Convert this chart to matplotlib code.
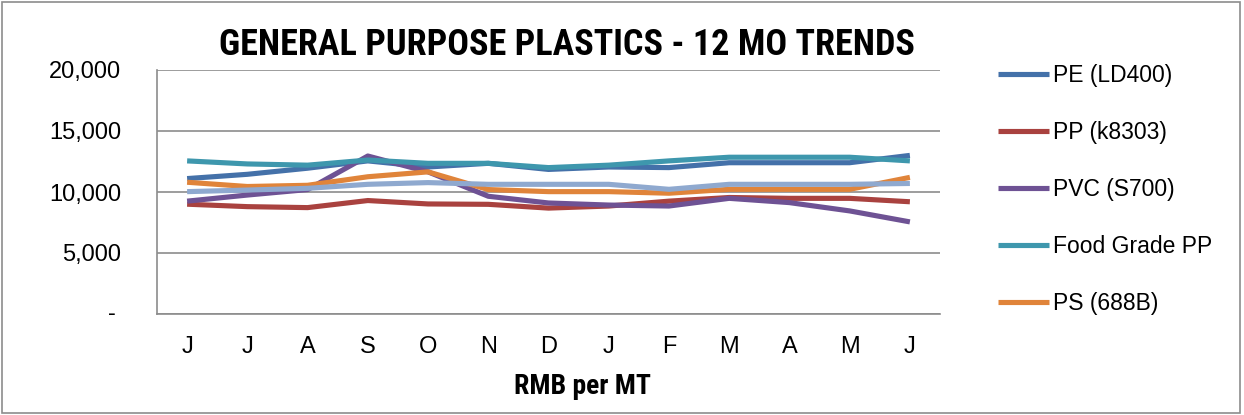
import matplotlib
matplotlib.use("Agg")
import matplotlib.pyplot as plt
from matplotlib.patches import Rectangle
from matplotlib.ticker import FuncFormatter

months = ["J", "J", "A", "S", "O", "N", "D", "J", "F", "M", "A", "M", "J"]

pe_ld400 = [11100, 11450, 11950, 12550, 12050, 12350, 11850, 12050, 12000, 12400, 12400, 12400, 13000]
pp_k8303 = [9000, 8800, 8720, 9300, 9020, 8990, 8680, 8850, 9250, 9550, 9480, 9480, 9200]
pvc_s700 = [9250, 9750, 10200, 12950, 11650, 9650, 9100, 8930, 8850, 9480, 9130, 8450, 7550]
food_grade_pp = [12550, 12300, 12200, 12620, 12350, 12350, 12000, 12200, 12550, 12850, 12850, 12850, 12550]
ps_688b = [10800, 10450, 10550, 11250, 11650, 10200, 10030, 10030, 9900, 10220, 10220, 10220, 11200]
series6 = [10030, 10160, 10300, 10630, 10770, 10630, 10630, 10630, 10220, 10630, 10630, 10630, 10700]

legend_labels = ["PE (LD400)", "PP (k8303)", "PVC (S700)", "Food Grade PP", "PS (688B)"]
y_ticks = [0, 5000, 10000, 15000, 20000]

colors = ["#4471A9", "#A9423F", "#6E5294", "#3E97AD", "#E0843A", "#8FA9CF"]
series = [pe_ld400, pp_k8303, pvc_s700, food_grade_pp, ps_688b, series6]

font = "Liberation Sans"
narrow = ["Roboto Condensed", "Asap Condensed", "Barlow Semi Condensed", "DejaVu Sans"]

fig = plt.figure(figsize=(12.44, 4.15), dpi=100)
fig.patch.set_facecolor("white")
fig.patches.append(Rectangle((0.002, 0.005), 0.995, 0.99, transform=fig.transFigure,
                             fill=False, edgecolor="#8c8c8c", linewidth=1.2))

ax = fig.add_axes([157 / 1244, 1 - 314 / 415, (940 - 157) / 1244, (314 - 70) / 415])
x = list(range(len(months)))
handles = []
for vals, c in zip(series, colors):
    h, = ax.plot(x, vals, color=c, linewidth=3.7, solid_capstyle="butt", solid_joinstyle="round")
    handles.append(h)

ax.set_xlim(-0.5, len(months) - 0.5)
ax.set_ylim(0, 20000)
ax.set_yticks(y_ticks)
ax.yaxis.set_major_formatter(FuncFormatter(lambda v, p: "" if v == 0 else f"{int(v):,}"))
ax.text(-0.063, 0, "-", transform=ax.get_yaxis_transform(), ha="left", va="center",
        fontsize=17, fontfamily=font)
ax.set_xticks(x)
ax.set_xticklabels(months)
ax.grid(axis="y", color="#8c8c8c", linewidth=1.2)
ax.set_axisbelow(True)
for s in ["top", "right"]:
    ax.spines[s].set_visible(False)
for s in ["left", "bottom"]:
    ax.spines[s].set_color("#8c8c8c")
    ax.spines[s].set_linewidth(1.2)
ax.tick_params(axis="both", length=0, labelsize=17)
ax.tick_params(axis="y", pad=26)
ax.tick_params(axis="x", pad=16)
for lab in ax.get_xticklabels() + ax.get_yticklabels():
    lab.set_fontfamily(font)

ax.set_xlabel("RMB per MT", fontsize=20, fontweight="bold", fontfamily=narrow)
ax.xaxis.set_label_coords(0.543, (314 - 373) / 244)
fig.text(567 / 1244, 1 - 45 / 415, "GENERAL PURPOSE PLASTICS - 12 MO TRENDS", ha="center", va="center",
         fontsize=26, fontweight="bold", fontfamily=narrow)

leg = fig.legend(handles[:5], legend_labels, loc="upper left", bbox_to_anchor=(989 / 1244, 1 - 55 / 415),
                 frameon=False, prop={"family": font, "size": 16.5}, handlelength=2.2,
                 handletextpad=0.2, labelspacing=1.48, borderaxespad=0)

fig.savefig("out.png", dpi=100)
